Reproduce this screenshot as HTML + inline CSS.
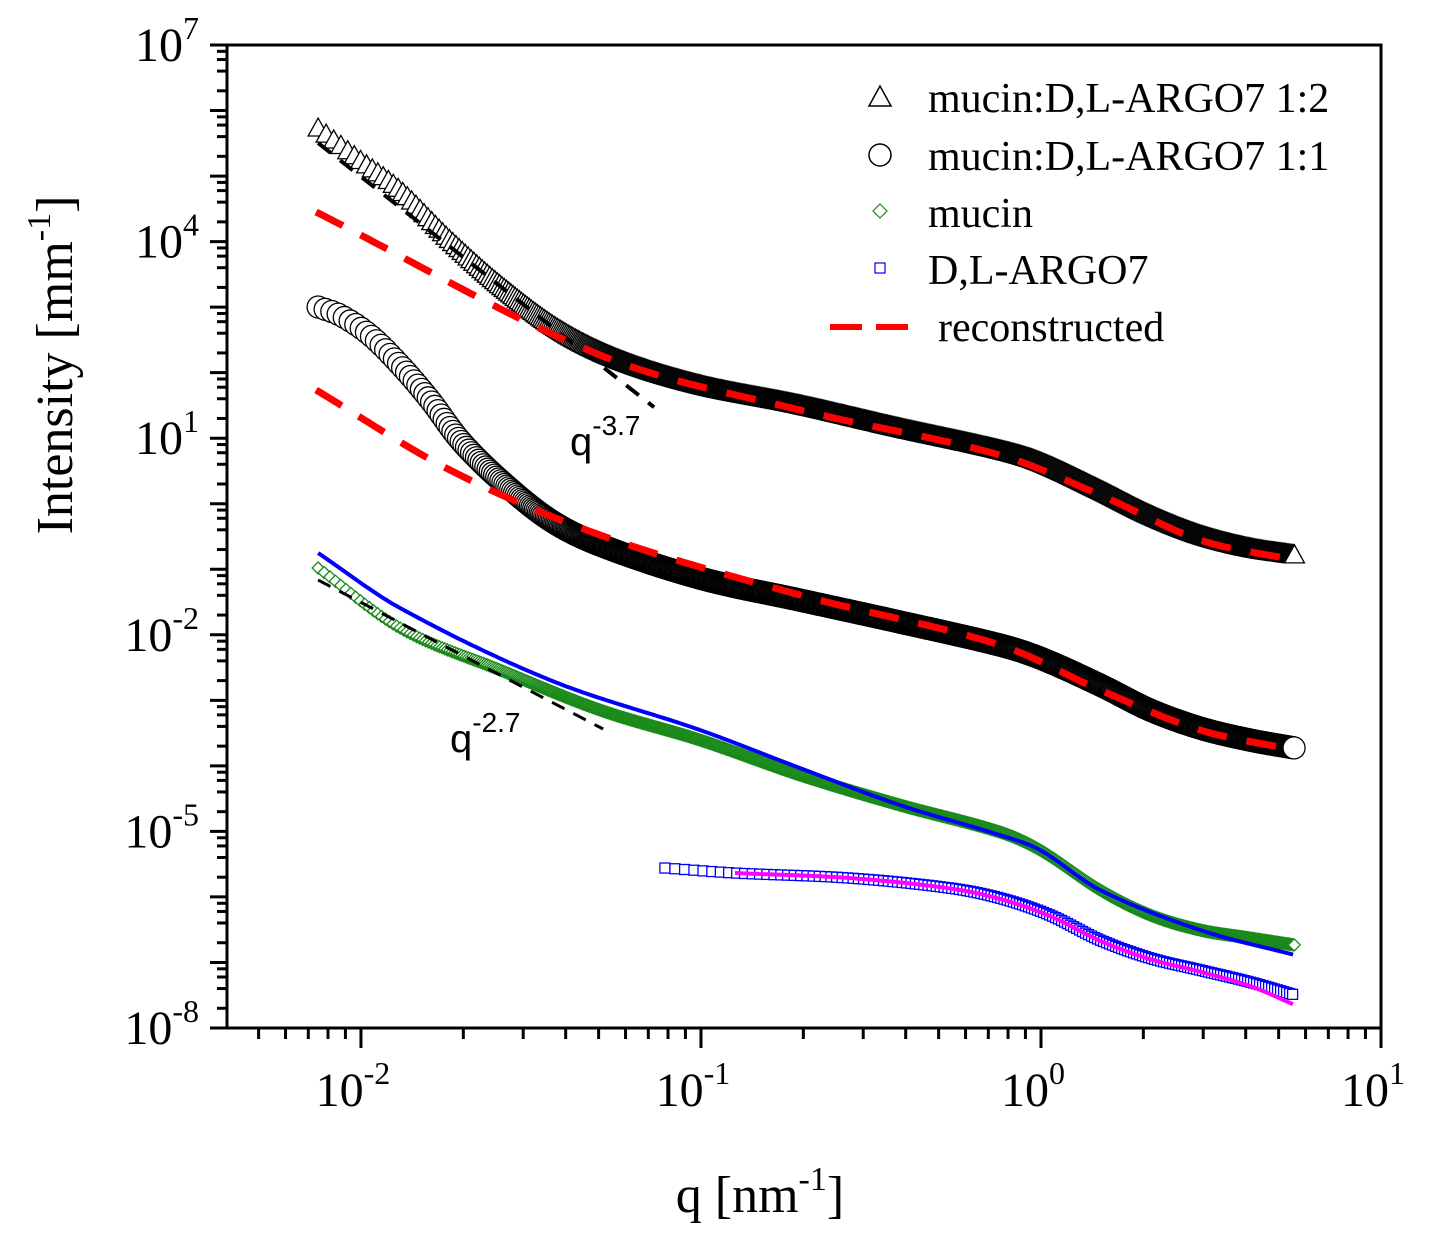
<!DOCTYPE html>
<html><head><meta charset="utf-8"><style>
body{margin:0;background:#fff}
</style></head><body>
<svg id="chart" width="1436" height="1246" xmlns="http://www.w3.org/2000/svg" font-family="Liberation Serif, serif">
<g id="plot"></g>
<g id="axes"></g>
<g id="legend">
<polygon points="880,86 869,106 891,106" fill="none" stroke="#000" stroke-width="1.5"/>
<text x="928" y="112" font-size="42">mucin:D,L-ARGO7 1:2</text>
<circle cx="880" cy="155" r="11" fill="none" stroke="#000" stroke-width="1.5"/>
<text x="928" y="170" font-size="42">mucin:D,L-ARGO7 1:1</text>
<polygon points="880,204 887,211 880,218 873,211" fill="none" stroke="#1a8a1a" stroke-width="1.2"/>
<text x="928" y="227" font-size="42">mucin</text>
<rect x="875" y="263" width="10" height="10" fill="none" stroke="#0000ff" stroke-width="1.2"/>
<text x="928" y="284" font-size="42">D,L-ARGO7</text>
<line x1="830" y1="327" x2="910" y2="327" stroke="#ff0000" stroke-width="6" stroke-dasharray="32,14"/>
<text x="938" y="341" font-size="42">reconstructed</text>
</g>
<text x="570" y="455" font-size="40" font-family="Liberation Sans, sans-serif">q<tspan font-size="28" dy="-20">-3.7</tspan></text>
<text x="450" y="752" font-size="40" font-family="Liberation Sans, sans-serif">q<tspan font-size="28" dy="-20">-2.7</tspan></text>
<text x="760" y="1212" font-size="52" text-anchor="middle">q [nm<tspan font-size="34" dy="-22">-1</tspan><tspan dy="22">]</tspan></text>
<text transform="translate(72,365) rotate(-90)" font-size="52" text-anchor="middle">Intensity [mm<tspan font-size="34" dy="-22">-1</tspan><tspan dy="22">]</tspan></text>
</svg>
<script>
const triLogQ=[-2.126,-2.003,-1.885,-1.738,-1.591,-1.415,-1.238,-1.003,-0.709,-0.415,-0.121,-0.003,0.174,0.321,0.468,0.615,0.747];
const triLogI=[5.733,5.245,4.787,4.024,3.338,2.651,2.193,1.812,1.507,1.155,0.82,0.637,0.21,-0.172,-0.477,-0.676,-0.782];
const cirLogQ=[-2.126,-2.062,-1.974,-1.885,-1.797,-1.709,-1.591,-1.444,-1.297,-1.003,-0.709,-0.415,-0.121,-0.003,0.174,0.321,0.468,0.615,0.747];
const cirLogI=[3.002,2.88,2.575,2.117,1.583,0.972,0.362,-0.249,-0.63,-1.134,-1.47,-1.805,-2.156,-2.354,-2.767,-3.148,-3.423,-3.606,-3.728];
const recALogQ=[-2.132,-1.297,-0.709,-0.121,0.174,0.468,0.747];
const recALogI=[4.452,2.269,1.43,0.743,0.133,-0.554,-0.859];
const recBLogQ=[-2.132,-1.738,-1.297,-0.709,-0.121,0.174,0.468,0.747];
const recBLogI=[1.735,0.514,-0.477,-1.393,-2.156,-2.843,-3.453,-3.758];
const mucLogQ=[-2.126,-1.885,-1.591,-1.297,-1.003,-0.709,-0.415,-0.121,-0.003,0.174,0.321,0.468,0.615,0.747];
const mucLogI=[-0.981,-1.897,-2.538,-3.148,-3.606,-4.14,-4.598,-5.01,-5.284,-5.895,-6.276,-6.505,-6.627,-6.734];
const fitMLogQ=[-2.126,-1.885,-1.444,-1.003,-0.709,-0.415,-0.121,-0.003,0.174,0.468,0.747];
const fitMLogI=[-0.752,-1.591,-2.69,-3.453,-4.033,-4.598,-5.056,-5.284,-5.895,-6.505,-6.887];
const argLogQ=[-1.106,-0.9,-0.562,-0.268,-0.121,0.026,0.174,0.321,0.468,0.615,0.747];
const argLogI=[-5.559,-5.635,-5.712,-5.864,-6.017,-6.276,-6.658,-6.933,-7.116,-7.299,-7.497];
const fitALogQ=[-0.9,-0.562,-0.268,-0.121,0.026,0.174,0.321,0.468,0.615,0.747];
const fitALogI=[-5.635,-5.712,-5.87,-6.03,-6.29,-6.67,-6.95,-7.14,-7.36,-7.65];
const pl1LogQ=[-2.126,-1.135], pl1LogI=[5.505,1.461];
const pl2LogQ=[-2.126,-1.282], pl2LogI=[-1.164,-3.453];
const xTickExp=[-2,-1,0,1];
const yTickExp=[7,4,1,-2,-5,-8];

const L=227,R=1381,T=45,B=1028;
const xMin=-2.394,xMax=1,yMin=-8,yMax=7;
const sx=v=>L+(v-xMin)/(xMax-xMin)*(R-L);
const sy=v=>B-(v-yMin)/(yMax-yMin)*(B-T);
const NS='http://www.w3.org/2000/svg';
const plot=document.getElementById('plot'),axes=document.getElementById('axes');
function mk(tag,attrs,parent){const e=document.createElementNS(NS,tag);for(const k in attrs)e.setAttribute(k,attrs[k]);parent.appendChild(e);return e;}
// smooth Hermite curve through the data points (rendering only)
function curve(xs,ys){
 const n=xs.length,m=[];
 for(let i=0;i<n;i++){
  if(n<3){m.push((ys[n-1]-ys[0])/(xs[n-1]-xs[0]));continue;}
  const a=Math.max(0,i-1),b=Math.min(n-1,i+1);m.push((ys[b]-ys[a])/(xs[b]-xs[a]));}
 return x=>{let i=0;while(i<n-2&&x>xs[i+1])i++;
  const h=xs[i+1]-xs[i],t=Math.min(1,Math.max(0,(x-xs[i])/h)),t2=t*t,t3=t2*t;
  return (2*t3-3*t2+1)*ys[i]+(t3-2*t2+t)*h*m[i]+(-2*t3+3*t2)*ys[i+1]+(t3-t2)*h*m[i+1];};
}
function line(qs,is,name,stroke,w,dash){
 const f=curve(qs,is),p=[];
 const x0=sx(qs[0]),x1=sx(qs[qs.length-1]);
 for(let x=x0;x<=x1+0.01;x+=3){const q=xMin+(x-L)/(R-L)*(xMax-xMin);p.push(x.toFixed(1)+','+sy(f(q)).toFixed(1));}
 const e=mk('polyline',{points:p.join(' '),fill:'none',stroke:stroke,'stroke-width':w,'stroke-linejoin':'round'},plot);
 if(dash)e.setAttribute('stroke-dasharray',dash);
 
 
}
function markers(qs,is,name,shape,color,s,step0,k,minStep){
 const f=curve(qs,is),g=mk('g',{},plot);
 
 
 let x=sx(qs[0]);const x1=sx(qs[qs.length-1]);
 while(x<=x1+0.01){
  const q=xMin+(x-L)/(R-L)*(xMax-xMin),y=sy(f(q));let e;
  if(shape==='tri')e=mk('polygon',{points:`${x},${y-s} ${x-s},${y+s*0.8} ${x+s},${y+s*0.8}`},g);
  else if(shape==='cir')e=mk('circle',{cx:x,cy:y,r:s},g);
  else if(shape==='dia')e=mk('polygon',{points:`${x},${y-s} ${x+s},${y} ${x},${y+s} ${x-s},${y}`},g);
  else e=mk('rect',{x:x-s,y:y-s,width:2*s,height:2*s},g);
  e.setAttribute('fill','#fff');e.setAttribute('stroke',color);e.setAttribute('stroke-width','1.3');
  x+=Math.max(minStep,step0*Math.pow(10,-(q-qs[0])*k));
 }
}
markers(triLogQ,triLogI,'series-1-2','tri','#000',10,8,1,1.1);
markers(cirLogQ,cirLogI,'series-1-1','cir','#000',11,7,1,1.1);
markers(mucLogQ,mucLogI,'series-mucin','dia','#1a8a1a',6,6,1,1.2);
markers(argLogQ,argLogI,'series-argo7','sq','#0000ff',5,10,0.5,3);
line(pl1LogQ,pl1LogI,'power-law-3-7','#000',4,'16,12');
line(pl2LogQ,pl2LogI,'power-law-2-7','#000',3,'14,10');
line(recALogQ,recALogI,'reconstructed-1-2','#ff0000',7,'30,20');
line(recBLogQ,recBLogI,'reconstructed-1-1','#ff0000',7,'30,20');
line(fitMLogQ,fitMLogI,'fit-mucin','#0000ff',4);
line(fitALogQ,fitALogI,'fit-argo7','#ff00ff',4);
{const f=mk('rect',{x:L,y:T,width:R-L,height:B-T,fill:'none',stroke:'#000','stroke-width':3},axes);
 
 }
// x ticks
for(let d=-3;d<=1;d++){for(let m=1;m<=9;m++){const v=d+Math.log10(m);if(v<xMin-1e-6||v>xMax+1e-6)continue;if(d===1&&m>1)continue;const x=sx(v);
 const t=mk('line',{x1:x,y1:B,x2:x,y2:B+(m===1?20:11),stroke:'#000','stroke-width':3},axes);
 
 }}
xTickExp.forEach(e=>{const t=mk('text',{x:sx(e)-8,y:B+78,'font-size':48,'text-anchor':'middle'},axes);
 t.innerHTML='10<tspan font-size="32" dy="-22">'+e+'</tspan>';
 
 });
// y ticks
for(let d=-8;d<=7;d++){for(const m of [1,2,4,6,8]){if(d===7&&m>1)continue;const v=d+Math.log10(m);const y=sy(v);
 const t=mk('line',{x1:L,y1:y,x2:L-(m===1?17:10),y2:y,stroke:'#000','stroke-width':3},axes);
 
 }}
yTickExp.forEach(e=>{const t=mk('text',{x:L-28,y:sy(e)+16,'font-size':48,'text-anchor':'end'},axes);
 t.innerHTML='10<tspan font-size="32" dy="-22">'+e+'</tspan>';
 
 });
</script>
</body></html>
